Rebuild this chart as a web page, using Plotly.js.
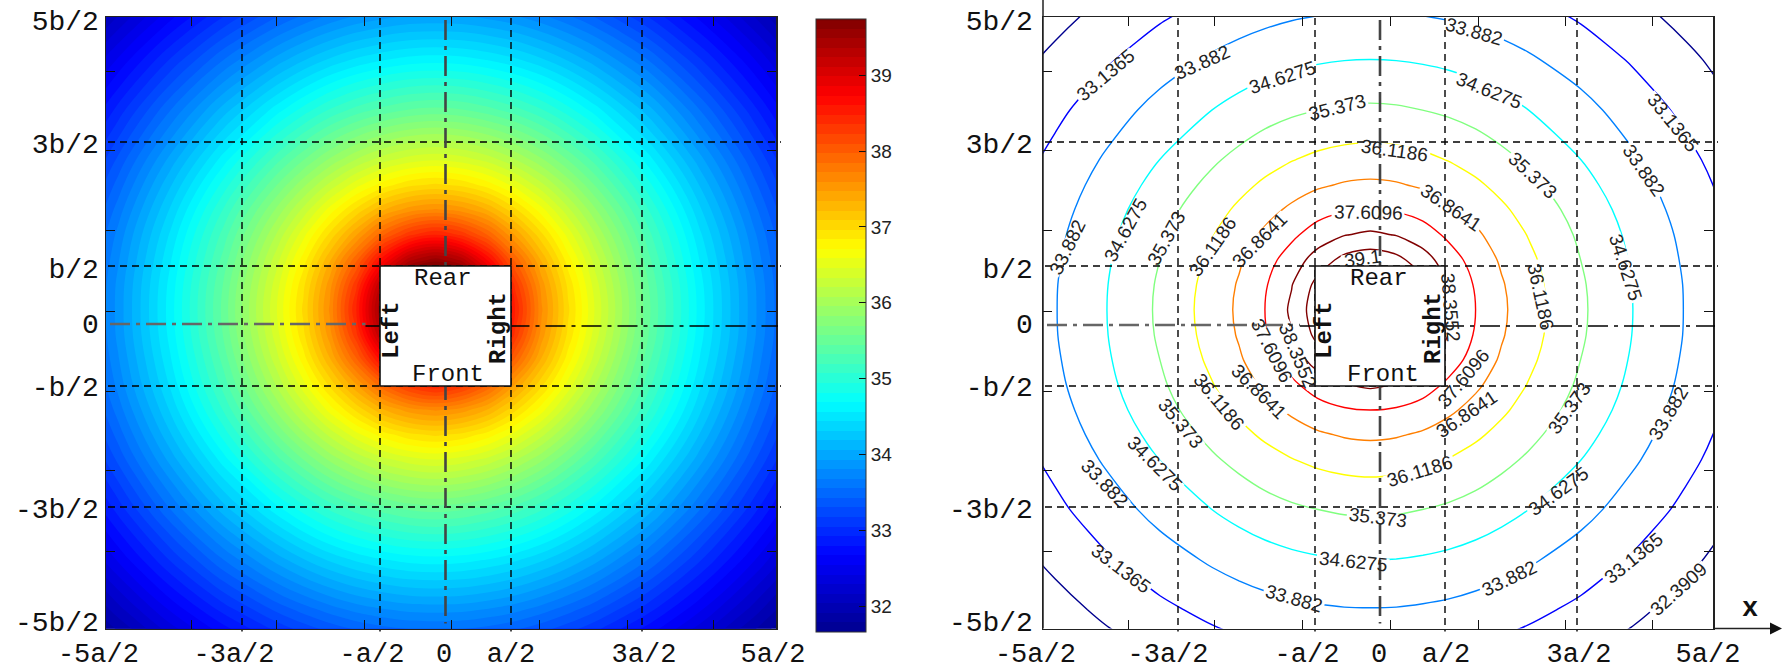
<!DOCTYPE html>
<html><head><meta charset="utf-8">
<script src="https://cdn.plot.ly/plotly-3.0.1.min.js"></script>
<style>html,body{margin:0;padding:0;background:#fff}</style></head>
<body><div id="chart" style="width:1782px;height:672px"></div>
<script>
// Field values, in units of a/2 and b/2
const gridX = [-5.81,-5.00,-4.20,-3.39,-2.58,-2.17,-1.77,-1.36,-0.96,-0.55,-0.15,0.25,0.66,1.06,1.47,1.87,2.28,3.09,3.89,4.70,5.51];
const gridY = [-5.56,-4.73,-3.90,-3.06,-2.23,-1.81,-1.40,-0.98,-0.56,-0.15,0.27,0.69,1.10,1.52,1.94,2.35,2.77,3.60,4.44,5.27,6.10];
const temperature = [
[31.25,31.65,32.04,32.39,32.69,32.82,32.92,33.00,33.06,33.10,33.11,33.10,33.06,33.00,32.92,32.82,32.69,32.39,32.04,31.65,31.25],
[31.65,32.11,32.56,32.97,33.33,33.48,33.61,33.72,33.79,33.84,33.85,33.84,33.79,33.72,33.61,33.48,33.33,32.97,32.56,32.11,31.65],
[32.04,32.56,33.06,33.55,33.98,34.17,34.33,34.46,34.55,34.61,34.63,34.61,34.55,34.46,34.33,34.17,33.98,33.55,33.06,32.56,32.04],
[32.39,32.97,33.55,34.12,34.63,34.87,35.08,35.25,35.37,35.46,35.49,35.46,35.37,35.25,35.08,34.87,34.63,34.12,33.55,32.97,32.39],
[32.69,33.33,33.98,34.63,35.27,35.57,35.85,36.09,36.28,36.40,36.45,36.40,36.28,36.09,35.85,35.57,35.27,34.63,33.98,33.33,32.69],
[32.82,33.48,34.17,34.87,35.57,35.92,36.24,36.54,36.77,36.93,36.99,36.93,36.77,36.54,36.24,35.92,35.57,34.87,34.17,33.48,32.82],
[32.92,33.61,34.33,35.08,35.85,36.24,36.63,36.99,37.32,37.53,37.61,37.53,37.32,36.99,36.63,36.24,35.85,35.08,34.33,33.61,32.92],
[33.00,33.72,34.46,35.25,36.09,36.54,36.99,37.46,37.95,38.32,38.49,38.32,37.95,37.46,36.99,36.54,36.09,35.25,34.46,33.72,33.00],
[33.06,33.79,34.55,35.37,36.28,36.77,37.32,37.95,38.69,39.33,39.56,39.33,38.69,37.95,37.32,36.77,36.28,35.37,34.55,33.79,33.06],
[33.10,33.84,34.61,35.46,36.40,36.93,37.53,38.32,39.33,40.12,40.51,40.12,39.33,38.32,37.53,36.93,36.40,35.46,34.61,33.84,33.10],
[33.11,33.85,34.63,35.49,36.45,36.99,37.61,38.49,39.56,40.51,41.00,40.51,39.56,38.49,37.61,36.99,36.45,35.49,34.63,33.85,33.11],
[33.10,33.84,34.61,35.46,36.40,36.93,37.53,38.32,39.33,40.12,40.51,40.12,39.33,38.32,37.53,36.93,36.40,35.46,34.61,33.84,33.10],
[33.06,33.79,34.55,35.37,36.28,36.77,37.32,37.95,38.69,39.33,39.56,39.33,38.69,37.95,37.32,36.77,36.28,35.37,34.55,33.79,33.06],
[33.00,33.72,34.46,35.25,36.09,36.54,36.99,37.46,37.95,38.32,38.49,38.32,37.95,37.46,36.99,36.54,36.09,35.25,34.46,33.72,33.00],
[32.92,33.61,34.33,35.08,35.85,36.24,36.63,36.99,37.32,37.53,37.61,37.53,37.32,36.99,36.63,36.24,35.85,35.08,34.33,33.61,32.92],
[32.82,33.48,34.17,34.87,35.57,35.92,36.24,36.54,36.77,36.93,36.99,36.93,36.77,36.54,36.24,35.92,35.57,34.87,34.17,33.48,32.82],
[32.69,33.33,33.98,34.63,35.27,35.57,35.85,36.09,36.28,36.40,36.45,36.40,36.28,36.09,35.85,35.57,35.27,34.63,33.98,33.33,32.69],
[32.39,32.97,33.55,34.12,34.63,34.87,35.08,35.25,35.37,35.46,35.49,35.46,35.37,35.25,35.08,34.87,34.63,34.12,33.55,32.97,32.39],
[32.04,32.56,33.06,33.55,33.98,34.17,34.33,34.46,34.55,34.61,34.63,34.61,34.55,34.46,34.33,34.17,33.98,33.55,33.06,32.56,32.04],
[31.65,32.11,32.56,32.97,33.33,33.48,33.61,33.72,33.79,33.84,33.85,33.84,33.79,33.72,33.61,33.48,33.33,32.97,32.56,32.11,31.65],
[31.25,31.65,32.04,32.39,32.69,32.82,32.92,33.00,33.06,33.10,33.11,33.10,33.06,33.00,32.92,32.82,32.69,32.39,32.04,31.65,31.25]];
const xTickText = ['-5a/2\u00a0','-3a/2','-a/2','0','a/2','3a/2','5a/2'];
const yTickText = ['-5b/2','-3b/2','-b/2','0','b/2','3b/2','5b/2'];
const colorbarTicks = [32,33,34,35,36,37,38,39];
const jet = [[0,'#00008f'],[0.125,'#0000ff'],[0.375,'#00ffff'],[0.625,'#ffff00'],[0.875,'#ff0000'],[1,'#800000']];

// Contour labels: text, and centre in page pixels with rotation
const contourLabels = [
['33.1365',1105,75,-40],['33.882',1202,62,-24],['34.6275',1282,77,-18],['33.882',1474,31,16],
['34.6275',1489,90,22],['35.373',1337,107,-14],['36.1186',1394,150,8],['35.373',1533,175,43],
['33.1365',1673,122,51],['33.882',1644,170,55],['36.8641',1451,207,34],['37.6096',1368,212,1],
['34.6275',1626,267,72],['36.1186',1541,296,78],['33.882',1067,247,-64],['34.6275',1125,230,-61],
['35.373',1166,238,-61],['36.1186',1212,247,-55],['36.8641',1259,240,-45],
['33.1365',1121,568,37],['33.882',1105,483,46],['34.6275',1155,463,45],['35.373',1181,423,50],
['36.1186',1219,401,50],['36.8641',1259,391,45],['37.6096',1272,350,63],['38.3552',1298,355,67],
['38.3552',1451,307,85],['37.6096',1463,378,-50],['36.8641',1466,414,-34],['36.1186',1419,471,-17],
['35.373',1378,517,7],['34.6275',1353,561,6],['33.882',1294,598,16],['33.882',1509,578,-26],
['34.6275',1558,491,-36],['35.373',1569,408,-54],['33.882',1668,413,-59],['33.1365',1633,558,-39],
['32.3909',1678,589,-42],['39.1',1362,258,-8]
];

const W=1782,H=672;
const L={l:106,r:776,cx:445.5,ux:65.5}, R={l:1043,r:1713,cx:1380,ux:65};
const pTop=17,pBot=628.5,cy=326,uy=60;
const px2x=(p,s)=>(p-s.cx)/s.ux, py2y=p=>(cy-p)/uy;
const dom=s=>[s.l/W,s.r/W];
const fnt=(sz,col)=>({family:'"Liberation Mono",monospace',size:sz,color:col||'#111'});

function axisX(s,minorPx,labelPx){return {
  domain:dom(s),range:[px2x(s.l,s),px2x(s.r,s)],
  tickmode:'array',tickvals:labelPx.map(p=>px2x(p,s)),ticktext:xTickText,
  ticks:'',tickfont:fnt(27),
  minor:{tickmode:'array',tickvals:minorPx.map(p=>px2x(p,s)),ticks:'inside',ticklen:9,tickwidth:1,tickcolor:'#111',showgrid:false},
  showline:true,linecolor:'#222',linewidth:1.5,mirror:'ticks',showgrid:false,zeroline:false};}
function axisY(standoff,anchor){const minor=[71,150,230,311,391,470,551];
  return {domain:[1-pBot/H,1-pTop/H],range:[py2y(pBot),py2y(pTop)],anchor,
  tickmode:'array',tickvals:[621,508,386,323,268,143,20].map(py2y),ticktext:yTickText,
  ticks:'',tickfont:fnt(28),ticklabelstandoff:standoff,
  minor:{tickmode:'array',tickvals:minor.map(py2y),ticks:'inside',ticklen:9,tickwidth:1,tickcolor:'#111',showgrid:false},
  showline:true,linecolor:'#222',linewidth:1.5,mirror:'ticks',showgrid:false,zeroline:false};}

function panelShapes(s,xr,yr,gx,gy0){
  const out=[];
  const base={type:'line',layer:'above'};
  const dash='7px,5px', dd='20px,6px,4px,6px';
  // horizontal dashed
  [266,386,142,507].forEach(p=>out.push({...base,xref:'paper',yref:yr,x0:(s.l+2)/W,x1:(s.r+5)/W,y0:py2y(p),y1:py2y(p),line:{color:'#000',width:1.6,dash}}));
  // vertical dashed
  [gx[0],s.cx-s.ux,s.cx+s.ux,gx[1]].forEach(p=>out.push({...base,xref:xr,yref:'paper',x0:px2x(p,s),x1:px2x(p,s),y0:1-(pTop+1)/H,y1:1-(pBot+3)/H,line:{color:'#000',width:1.4,dash}}));
  // centre lines
  out.push({...base,xref:'paper',yref:yr,x0:(s.l+4)/W,x1:(s.cx-80)/W,y0:py2y(gy0),y1:py2y(gy0),line:{color:'#666',width:2.4,dash:dd}});
  out.push({...base,xref:'paper',yref:yr,x0:(s.cx-80)/W,x1:(s.r+2)/W,y0:py2y(cy),y1:py2y(cy),line:{color:'#000',width:1.4,dash:dd}});
  out.push({...base,xref:xr,yref:'paper',x0:px2x(s.cx,s),x1:px2x(s.cx,s),y0:1-(pTop+3)/H,y1:1-(pBot-5)/H,line:{color:'#444',width:2.6,dash:dd}});
  // the white building footprint
  out.push({type:'rect',layer:'above',xref:xr,yref:yr,x0:-1,x1:1,y0:-1,y1:1,fillcolor:'#fff',line:{color:'#111',width:1.6}});
  return out;
}

const ann=[];
function boxLabels(xr,yr,s,off){
  const t=(text,px,py,angle,bold)=>ann.push({xref:xr,yref:yr,x:px2x(px,s),y:py2y(py),text:bold?'<b>'+text+'</b>':text,textangle:angle,showarrow:false,font:fnt(24,'#111'),xanchor:'center',yanchor:'middle'});
  t('Rear',off[0],278,0,false); t('Front',off[1],374,0,false);
  t('Left',off[2],330,-90,true); t('Right',off[3],328,-90,true);
}
boxLabels('x','y',L,[443,448,391,498]);
boxLabels('x2','y2',R,[1379,1383,1324,1433]);

// contour label text and white gaps under it
const gapX=[],gapY=[];
contourLabels.forEach(([text,px,py,ang])=>{
  ann.push({xref:'x2',yref:'y2',x:px2x(px,R),y:py2y(py),text,textangle:ang,showarrow:false,
    font:{family:'"Liberation Sans",Arial,sans-serif',size:19,color:'#222'},xanchor:'center',yanchor:'middle'});
  const half=text.length*5.2, c=Math.cos(ang*Math.PI/180), sn=Math.sin(ang*Math.PI/180);
  gapX.push(px2x(px-c*half,R),px2x(px+c*half,R),null);
  gapY.push(py2y(py-sn*half),py2y(py+sn*half),null);
});
ann.push({xref:'paper',yref:'paper',x:1750/W,y:1-609/H,text:'<b>x</b>',showarrow:false,font:fnt(27,'#111'),xanchor:'center',yanchor:'middle'});

const traces=[
 {type:'contour',x:gridX,y:gridY,z:temperature,xaxis:'x',yaxis:'y',colorscale:jet,zauto:false,zmin:31.66,zmax:39.74,
  autocontour:false,contours:{coloring:'fill',start:31.66,end:39.74,size:0.12625,showlines:false},line:{width:0,smoothing:1},hoverinfo:'skip',
  colorbar:{x:816/W,xanchor:'left',xpad:0,ypad:0,y:1-19/H,yanchor:'top',len:613/H,lenmode:'fraction',thickness:50,thicknessmode:'pixels',
    tickmode:'array',tickvals:colorbarTicks,ticktext:colorbarTicks.map(String),ticks:'inside',ticklen:7,tickcolor:'#111',tickwidth:1,
    tickfont:{family:'"Liberation Sans",Arial,sans-serif',size:19,color:'#222'},outlinecolor:'#333',outlinewidth:1}},
 {type:'contour',x:gridX,y:gridY,z:temperature,xaxis:'x2',yaxis:'y2',colorscale:jet,zauto:false,zmin:32.39,zmax:39.10,showscale:false,
  autocontour:false,contours:{coloring:'lines',start:32.390925,end:39.2,size:0.74553},line:{width:1.4,smoothing:0.8},hoverinfo:'skip'},
 {type:'scatter',mode:'lines',x:gapX,y:gapY,xaxis:'x2',yaxis:'y2',line:{color:'#fff',width:11},hoverinfo:'skip',showlegend:false}
];

// colorbar ticks on the left side of the bar
const barTickShapes=colorbarTicks.map(v=>{const p=606-(v-32)*75.86;return {type:'line',layer:'above',xref:'paper',yref:'paper',x0:816/W,x1:823/W,y0:1-p/H,y1:1-p/H,line:{color:'#111',width:1}};});

const layout={width:W,height:H,margin:{l:0,r:0,t:0,b:0},paper_bgcolor:'#fff',plot_bgcolor:'#fff',showlegend:false,
 xaxis:axisX(L,[191,276,364,451,539,627,713],[106.5,234,372,444,511,644,773]),
 yaxis:axisY(0,'x'),
 xaxis2:{...axisX(R,[1128,1214,1302,1390,1478,1565,1652],[1043.5,1168,1307,1379,1446,1579,1708]),anchor:'y2'},
 yaxis2:axisY(3,'x2'),
 shapes:[...panelShapes(L,'x','y',[242,642],324),...panelShapes(R,'x2','y2',[1178,1577],325),...barTickShapes,
  {type:'line',layer:'above',xref:'paper',yref:'paper',x0:R.l/W,x1:R.l/W,y0:1-pBot/H,y1:1,line:{color:'#222',width:1.5}},
  {type:'line',layer:'above',xref:'paper',yref:'paper',x0:R.r/W,x1:1775/W,y0:1-pBot/H,y1:1-pBot/H,line:{color:'#222',width:1.5}},
  {type:'path',layer:'above',xref:'paper',yref:'paper',path:`M ${1770/W} ${1-(pBot-6)/H} L ${1782/W} ${1-pBot/H} L ${1770/W} ${1-(pBot+6)/H} Z`,fillcolor:'#111',line:{color:'#111',width:0}}],
 annotations:ann};
Plotly.newPlot('chart',traces,layout,{staticPlot:true,displayModeBar:false});
</script></body></html>
